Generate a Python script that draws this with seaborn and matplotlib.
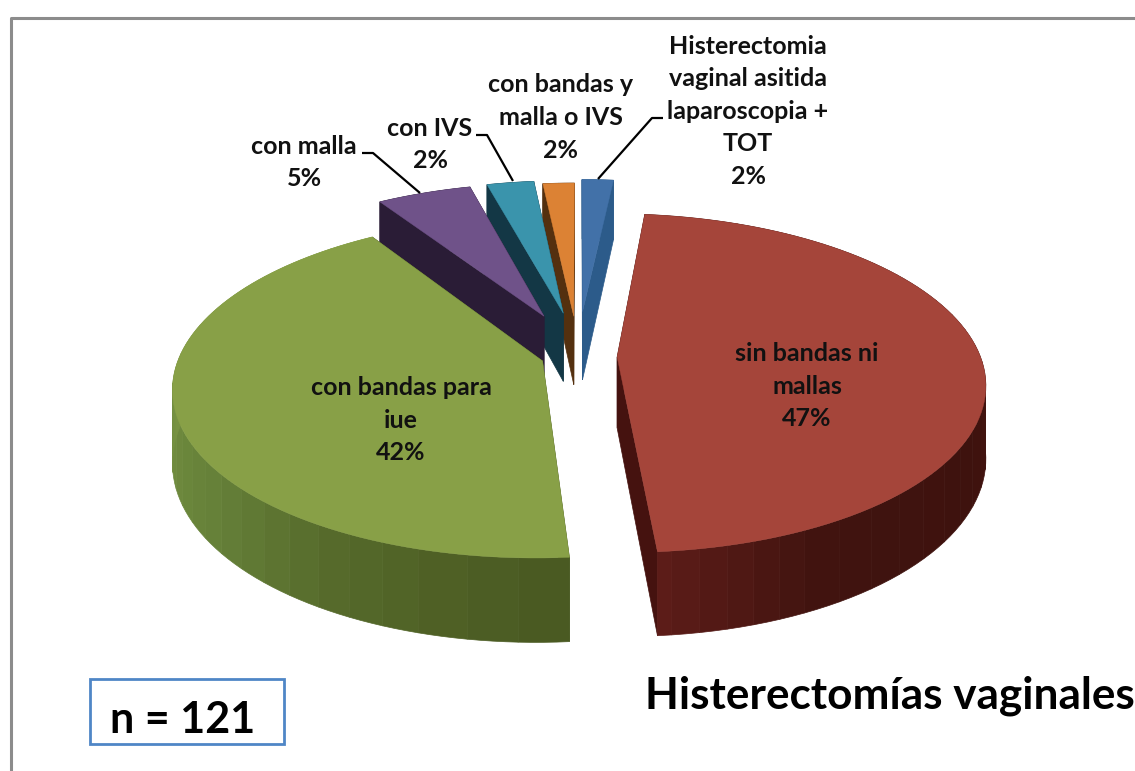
import numpy as np
import matplotlib
matplotlib.use("Agg")
import matplotlib.pyplot as plt
import seaborn as sns

# slices clockwise from 12 o'clock, counts add up to n = 121
labels = ["Histerectomia\nvaginal asitida\nlaparoscopia +\nTOT", "sin bandas ni\nmallas", "con bandas para\niue",
          "con malla", "con IVS", "con bandas y\nmalla o IVS"]
values = [2, 57, 51, 6, 3, 2]
top_colors = ["#4271a8", "#a5453a", "#88a047", "#6f5289", "#3a94ac", "#dc8234"]
wall_colors = [["#2c5b8a", "#2c5b8a"],
               ["#4a1612", "#4a1612", "#4a1612", "#3e120e", "#40130f", "#5c1c18"],
               ["#4a5a22", "#55692a", "#647f38", "#6f8b3e", "#7b9644", "#84a048", "#84a048"],
               ["#2a1c36", "#2a1c36"], ["#133745", "#133745"], ["#54300f", "#54300f"]]
radial_colors = ["#2c5b8a", "#45120f", "#4a5a22", "#2a1c36", "#133745", "#54300f"]
# painted back to front
draw_order = [0, 5, 4, 3, 2, 1]

# centre and size of the fake 3d pie, in pixels
CX, CY = 579, 356
RX, RY = 363, 165
PERSP = 0.154
DEPTH = 71
# how far each slice is pulled out (fractions of the radius)
explode_u = [0.01, 0.105, -0.10, -0.10, -0.045, -0.015]
explode_v = [-0.28, 0.006, 0.03, -0.25, -0.27, -0.25]

label_pos = [(748, 95), (807, 370), (401, 404), (304, 146), (430, 128), (561, 101)]
pct_pos = [(748, 177), (807, 418), (401, 452), (304, 178), (430, 160), (561, 150)]
leaders = {0: ([598, 652, 663], [179, 118, 118]),
           3: ([420, 373, 362], [193, 153, 153]),
           4: ([513, 487, 476], [181, 135, 135])}


def project(u, v, z=0.0):
    s = 1.0 / (1.0 - PERSP * v)
    return CX + RX * u * s, CY + RY * v * s + DEPTH * z * s


sns.set_theme(style="white")
plt.rcParams["font.family"] = ["Lato", "DejaVu Sans"]

fig = plt.figure(figsize=(11.35, 7.71), dpi=100)
ax = fig.add_axes([0, 0, 1, 1])
ax.set_xlim(0, 1135)
ax.set_ylim(771, 0)
ax.axis("off")

edges = np.concatenate([[0], np.cumsum(values)]) / np.sum(values) * 2 * np.pi

for order, i in enumerate(draw_order):
    t0, t1 = edges[i], edges[i + 1]
    ou, ov = explode_u[i], explode_v[i]
    th = np.linspace(t0, t1, 90)
    u = ou + np.sin(th)
    v = ov - np.cos(th)

    # radial walls
    for tt in (t0, t1):
        a = project(ou, ov)
        b = project(ou + np.sin(tt), ov - np.cos(tt))
        a2 = project(ou, ov, 1)
        b2 = project(ou + np.sin(tt), ov - np.cos(tt), 1)
        ax.fill([a[0], b[0], b2[0], a2[0]], [a[1], b[1], b2[1], a2[1]], color=radial_colors[i], lw=0.5,
                zorder=2 + order)

    # outer wall, banded like the original gradient
    n_band = max(2, int((t1 - t0) / (2 * np.pi) * 70))
    pal = sns.blend_palette(wall_colors[i], n_band)
    idx = np.array_split(np.arange(len(th)), n_band)
    for k, ids in enumerate(idx):
        ids = np.append(ids, min(ids[-1] + 1, len(th) - 1))
        x1, y1 = project(u[ids], v[ids])
        x2, y2 = project(u[ids], v[ids], 1)
        ax.fill(np.r_[x1, x2[::-1]], np.r_[y1, y2[::-1]], color=pal[k], lw=0.5, zorder=2 + order)

    # top face
    xt, yt = project(np.r_[ou, u], np.r_[ov, v])
    ax.fill(xt, yt, color=top_colors[i], lw=0.3, zorder=2 + order)

total = sum(values)
for i, txt in enumerate(labels):
    ax.text(label_pos[i][0], label_pos[i][1], txt, ha="center", va="center", fontsize=18, fontweight="bold",
            color="#111111", linespacing=1.5, zorder=20)
    ax.text(pct_pos[i][0], pct_pos[i][1], f"{round(100 * values[i] / total)}%", ha="center", va="center",
            fontsize=18, fontweight="bold", color="#111111", zorder=20)

for i, (lx, ly) in leaders.items():
    ax.plot(lx, ly, color="black", lw=1.6, zorder=21, solid_capstyle="butt")

# frame of the slide
ax.plot([11, 11, 1135], [771, 18, 18], color="#8c8c8c", lw=2.2, zorder=1)

ax.add_patch(plt.Rectangle((90, 679), 194, 65, fill=False, ec="#4f86c6", lw=2, zorder=3))
ax.text(110, 720, f"n = {total}", ha="left", va="center", fontsize=31, fontweight="bold", color="black")
ax.text(645, 696, "Histerectomías vaginales", ha="left", va="center", fontsize=31.8, fontweight="bold",
        color="black")

fig.savefig("out.png", dpi=100, facecolor="white")
